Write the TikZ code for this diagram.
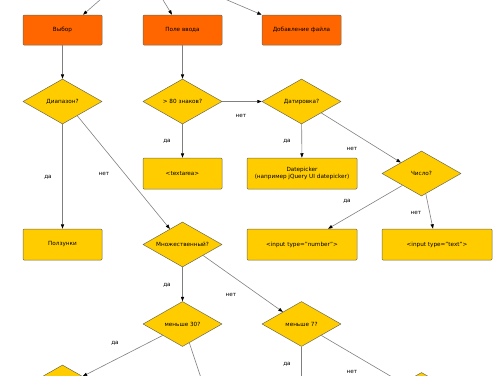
\documentclass[tikz,border=0pt]{standalone}
\usepackage{fontspec}
\setmainfont{DejaVu Sans}
\usetikzlibrary{arrows.meta}
\usetikzlibrary{shapes.geometric}
\usetikzlibrary{positioning}
\definecolor{boxorange}{HTML}{FF6600}
\definecolor{boxyellow}{HTML}{FFCC00}
\definecolor{boxline}{HTML}{6E6A50}
\definecolor{edgegray}{HTML}{808080}

\begin{document}
\begin{tikzpicture}[x=1pt,y=-1pt,
		every node/.style={font=\fontsize{5.7}{7.5}\selectfont},
		block/.style={rectangle, rounded corners=1pt, draw=boxline, line width=0.5pt,
			minimum width=79pt, minimum height=30pt, inner sep=1pt, align=center},
		kind/.style={block, fill=boxorange},
		widget/.style={block, fill=boxyellow, minimum height=31pt},
		decision/.style={diamond, draw=boxline, line width=0.5pt, fill=boxyellow,
			minimum width=79pt, minimum height=45pt, inner sep=0pt, aspect=1.75},
		edge/.style={draw=edgegray, line width=0.6pt},
		arr/.style={edge, -{Triangle[length=4.5pt,width=3.2pt,color=black]}},
		lbl/.style={inner sep=0pt}]
		\useasboundingbox (0,0) rectangle (500,375);
		\clip (0,0) rectangle (500,375);
		
		% first row: field kinds
		\node[kind] (vybor) at (62.5,30) {Выбор};
		\node[kind] (pole) at (182.5,30) {Поле ввода};
		\node[kind] (fajl) at (301.5,30) {Добавление файла};
		\coordinate (in1) at (117,-15);
		\coordinate (in2) at (154,-15);
		\coordinate (in3) at (192,-15);
		
		% questions
		\node[decision] (diap) at (62.5,101.5) {Диапазон?};
		\node[decision] (znaki) at (182.5,101.5) {> 80 знаков?};
		\node[decision] (dat) at (301.5,101.5) {Датировка?};
		\node[decision] (chislo) at (421.5,173.5) {Число?};
		\node[decision] (mnozh) at (182.5,244.5) {Множественный?};
		\node[decision] (m30) at (182.5,324) {меньше 30?};
		\node[decision] (m7) at (301.5,324) {меньше 7?};
		\node[decision] (niz1) at (62.5,387.5) {};
		\node[decision] (niz2) at (421.5,395) {};
		\coordinate (niz3) at (205,390);
		\coordinate (niz4) at (301.5,390);
		
		% widgets
		\node[widget] (textarea) at (182.5,173.5) {<textarea>};
		\node[widget, minimum width=110pt] (datepicker) at (302,173.5) {Datepicker\\(например jQuery UI datepicker)};
		\node[widget] (polz) at (62.5,244.5) {Ползунки};
		\node[widget, minimum width=110pt] (number) at (302,244.5) {<input type="number">};
		\node[widget, minimum width=110pt] (textinp) at (437,244.5) {<input type="text">};
		
		% connectors
		\draw[arr] (in1) -- ([xshift=20.5pt]vybor.north);
		\draw[arr] (in2) -- ([xshift=-10.5pt]pole.north);
		\draw[arr] (in3) -- (fajl.north west);
		\draw[arr] (vybor) -- (diap);
		\draw[arr] (pole) -- (znaki);
		\draw[arr] (znaki) -- (dat);
		\draw[arr] (znaki) -- (textarea);
		\draw[arr] (dat) -- (datepicker);
		\draw[arr] (dat.-30) -- (chislo.152);
		\draw[arr] (chislo.-148) -- ([xshift=26pt]number.north);
		\draw[arr] (chislo.-78) -- ([xshift=-4pt]textinp.north);
		\draw[arr] (diap) -- (polz);
		\draw[arr] (diap.-44) -- (mnozh.129);
		\draw[arr] (mnozh) -- (m30);
		\draw[arr] (mnozh.-28) -- (m7.147);
		\draw[arr] (m30.-150) -- (niz1.29);
		\draw[edge] (m30.-70) -- (niz3);
		\draw[edge] (m7) -- (niz4);
		\draw[arr] (m7.-30) -- (niz2.148);
		
		% answers
		\node[lbl] (l1) at (241,116) {нет};
		\node[lbl] (l2) at (167,141) {да};
		\node[lbl] (l3) at (287,141) {да};
		\node[lbl] (l4) at (352,149) {нет};
		\node[lbl] (l5) at (347,201) {да};
		\node[lbl] (l6) at (416,213) {нет};
		\node[lbl] (l7) at (48,177) {да};
		\node[lbl] (l8) at (104,174) {нет};
		\node[lbl] (l9) at (167,285) {да};
		\node[lbl] (l10) at (231,295) {нет};
		\node[lbl] (l11) at (115,343) {да};
		\node[lbl] (l12) at (287,364) {да};
		\node[lbl] (l13) at (352,372) {нет};
	\end{tikzpicture}
\end{document}
